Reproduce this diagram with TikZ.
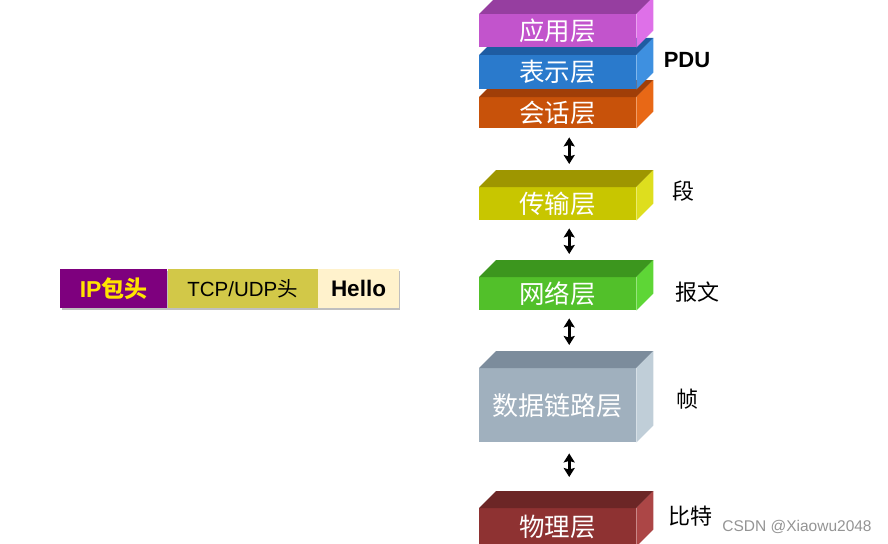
\documentclass[tikz,border=0pt]{standalone}
\usepackage{fontspec}
\setmainfont{Liberation Sans}
\newfontfamily\cjk{Noto Sans CJK SC}
\usetikzlibrary{arrows.meta}
\definecolor{appF}{RGB}{194,84,204}\definecolor{appT}{RGB}{150,62,160}\definecolor{appS}{RGB}{222,112,232}
\definecolor{preF}{RGB}{42,122,204}\definecolor{preT}{RGB}{30,92,162}\definecolor{preS}{RGB}{62,144,224}
\definecolor{sesF}{RGB}{200,82,10}\definecolor{sesT}{RGB}{160,62,8}\definecolor{sesS}{RGB}{232,104,22}
\definecolor{traF}{RGB}{200,198,0}\definecolor{traT}{RGB}{158,150,0}\definecolor{traS}{RGB}{222,222,30}
\definecolor{netF}{RGB}{82,192,42}\definecolor{netT}{RGB}{60,150,30}\definecolor{netS}{RGB}{94,214,54}
\definecolor{dlF}{RGB}{160,176,190}\definecolor{dlT}{RGB}{124,140,156}\definecolor{dlS}{RGB}{192,206,216}
\definecolor{phyF}{RGB}{142,50,50}\definecolor{phyT}{RGB}{108,38,38}\definecolor{phyS}{RGB}{172,70,70}
\definecolor{ipC}{RGB}{126,0,126}\definecolor{ipT}{RGB}{255,228,0}
\definecolor{tcpC}{RGB}{210,200,72}\definecolor{helC}{RGB}{255,242,204}
\newcommand\prismfaces[3]{%
  \fill[#2] (#1.north west) -- (#1.north east) -- ++(17,-17) -- ([shift={(17,-17)}]#1.north west) -- cycle;
  \fill[#3] (#1.north east) -- ++(17,-17) -- ([shift={(17,-17)}]#1.south east) -- (#1.south east) -- cycle;}
\begin{document}
\begin{tikzpicture}[x=1pt,y=-1pt,
  face/.style={draw=none, inner sep=0pt, minimum width=157pt, anchor=north west, text=white,
    font=\cjk\fontsize{25.5}{25.5}\selectfont},
  dar/.style={{Stealth[length=9pt,width=11pt,inset=1.5pt]}-{Stealth[length=9pt,width=11pt,inset=1.5pt]}, line width=3pt, black},
  lbl/.style={font=\cjk\fontsize{22}{22}\selectfont, text=black},
  seg/.style={inner sep=0pt, minimum height=39pt, anchor=north west, font=\fontsize{20.5}{20.5}\selectfont},
  shad/.style={fill=black!25}]
\useasboundingbox (0,0) rectangle (888,543);
\clip (0,0) rectangle (888,543);
% upper stack
\node[face, fill=sesF, minimum height=31pt] (ses) at (479,97) {会话层};
\prismfaces{ses}{sesT}{sesS}
\node[face, fill=preF, minimum height=34pt] (pre) at (479,55) {表示层};
\prismfaces{pre}{preT}{preS}
\node[face, fill=appF, minimum height=33pt] (app) at (479,14) {应用层};
\prismfaces{app}{appT}{appS}
% transport
\node[face, fill=traF, minimum height=33pt] (tra) at (479,187) {传输层};
\prismfaces{tra}{traT}{traS}
% network
\node[face, fill=netF, minimum height=33pt] (net) at (479,277) {网络层};
\prismfaces{net}{netT}{netS}
% data link
\node[face, fill=dlF, minimum height=74pt, font=\cjk\fontsize{26}{26}\selectfont] (dl) at (479,368) {数据链路层};
\prismfaces{dl}{dlT}{dlS}
% physical
\node[face, fill=phyF, minimum height=38pt] (phy) at (479,508) {物理层};
\prismfaces{phy}{phyT}{phyS}
% arrows
\draw[dar] ([shift={(11.5,9)}]ses.south) -- ([shift={(11.5,-23)}]tra.north);
\draw[dar] ([shift={(11.5,8)}]tra.south) -- ([shift={(11.5,-23)}]net.north);
\draw[dar] ([shift={(11.5,8)}]net.south) -- ([shift={(11.5,-23)}]dl.north);
\draw[dar] ([shift={(11.5,11)}]dl.south) -- ([shift={(11.5,-31)}]phy.north);
% labels
\node[font=\bfseries\fontsize{22}{22}\selectfont] (pdu) at (687,60) {PDU};
\node[lbl] (duan) at (683,191) {段};
\node[lbl] (baowen) at (697,292) {报文};
\node[lbl] (zhen) at (687,399) {帧};
\node[lbl] (bite) at (690,516) {比特};
% packet bar
\fill[shad] (62,271) rectangle (400,310);
\node[seg, fill=ipC, minimum width=107pt, text=ipT, font=\bfseries\fontsize{23}{23}\selectfont] (ip) at (60,269) {IP{\cjk 包头}};
\node[seg, fill=tcpC, minimum width=150pt, text=black] (tcp) at (ip.north east) {TCP/UDP{\cjk 头}};
\node[seg, fill=helC, minimum width=81pt, text=black, font=\bfseries\fontsize{22.5}{22.5}\selectfont] (hel) at (tcp.north east) {Hello};
% watermark
\node[font=\fontsize{15.5}{15.5}\selectfont, text=black!42] (wm) at (797,527) {CSDN @Xiaowu2048};
\end{tikzpicture}
\end{document}
